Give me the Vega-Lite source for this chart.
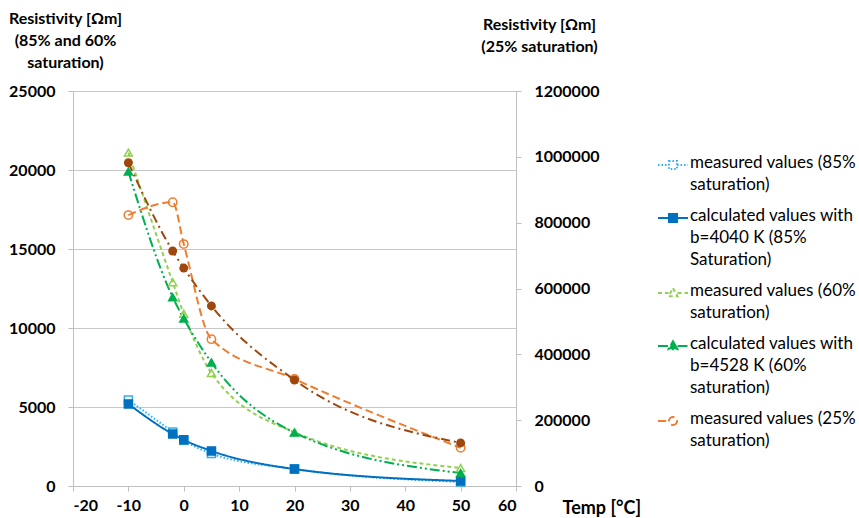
{
  "$schema": "https://vega.github.io/schema/vega-lite/v6.json",
  "width": 443,
  "height": 395,
  "autosize": {"type": "none"},
  "padding": {"left": 73, "top": 91, "right": 343, "bottom": 32},
  "background": "white",
  "config": {
    "view": {"stroke": null},
    "font": "Lato",
    "axis": {
      "labelFont": "Lato", "labelFontWeight": "bold", "labelFontSize": 16, "labelColor": "#000000",
      "titleFont": "Lato", "titleFontWeight": "bold", "titleFontSize": 16, "titleColor": "#000000",
      "domainColor": "#BFBFBF", "tickColor": "#BFBFBF", "gridColor": "#C8C8C8", "tickSize": 5
    }
  },
  "datasets": {
    "main": [
      {"series": "m85", "temp": -10, "r": 5450}, {"series": "m85", "temp": -2, "r": 3420}, {"series": "m85", "temp": 0, "r": 2900}, {"series": "m85", "temp": 5, "r": 2050}, {"series": "m85", "temp": 20, "r": 1080}, {"series": "m85", "temp": 50, "r": 260},
      {"series": "c85", "temp": -10, "r": 5190}, {"series": "c85", "temp": -2, "r": 3290}, {"series": "c85", "temp": 0, "r": 2920}, {"series": "c85", "temp": 5, "r": 2220}, {"series": "c85", "temp": 20, "r": 1070}, {"series": "c85", "temp": 50, "r": 320},
      {"series": "m60", "temp": -10, "r": 21100}, {"series": "m60", "temp": -2, "r": 12900}, {"series": "m60", "temp": 0, "r": 10900}, {"series": "m60", "temp": 5, "r": 7150}, {"series": "m60", "temp": 20, "r": 3400}, {"series": "m60", "temp": 50, "r": 1140},
      {"series": "c60", "temp": -10, "r": 19900}, {"series": "c60", "temp": -2, "r": 11950}, {"series": "c60", "temp": 0, "r": 10600}, {"series": "c60", "temp": 5, "r": 7820}, {"series": "c60", "temp": 20, "r": 3380}, {"series": "c60", "temp": 50, "r": 820}
    ],
    "right": [
      {"series": "m25", "temp": -10, "r": 823000}, {"series": "m25", "temp": -2, "r": 862000}, {"series": "m25", "temp": 0, "r": 735000}, {"series": "m25", "temp": 5, "r": 446000}, {"series": "m25", "temp": 20, "r": 325000}, {"series": "m25", "temp": 50, "r": 116000},
      {"series": "c25", "temp": -10, "r": 982000}, {"series": "c25", "temp": -2, "r": 714000}, {"series": "c25", "temp": 0, "r": 662000}, {"series": "c25", "temp": 5, "r": 547000}, {"series": "c25", "temp": 20, "r": 322000}, {"series": "c25", "temp": 50, "r": 131000}
    ]
  },
  "layer": [
    {
      "data": {"name": "main"},
      "encoding": {
        "x": {"field": "temp", "type": "quantitative",
          "scale": {"domain": [-20, 60], "nice": false, "zero": false},
          "axis": {"values": [-20, -10, 0, 10, 20, 30, 40, 50, 60], "labelExpr": "'' + datum.value", "grid": false, "labelPadding": 6,
            "title": "Temp [°C]", "titleFontSize": 18, "titleAlign": "left", "titleBaseline": "middle", "titleX": 489, "titleY": 22, "titleAngle": 0}},
        "y": {"field": "r", "type": "quantitative",
          "scale": {"domain": [0, 25000], "nice": false},
          "axis": {"values": [0, 5000, 10000, 15000, 20000, 25000], "format": "d", "grid": true, "labelPadding": 13,
            "title": ["Resistivity [Ωm]", "(85% and 60%", "saturation)"], "titleAngle": 0, "titleAlign": "center", "titleBaseline": "alphabetic",
            "titleX": -8, "titleY": -68, "titleLineHeight": 22}}
      },
      "layer": [
        {
          "mark": {"type": "line", "interpolate": "monotone", "strokeWidth": 2},
          "encoding": {
            "color": {"field": "series", "type": "nominal",
              "scale": {"domain": ["m85", "c85", "m60", "c60", "m25"], "range": ["#2FB0EE", "#0070C0", "#92D050", "#00B050", "#ED7D31"]},
              "legend": {
                "orient": "none", "legendX": 584, "legendY": 58, "title": null, "direction": "vertical",
                "labelExpr": "datum.label == 'm85' ? ['measured values (85%', 'saturation)'] : datum.label == 'c85' ? ['calculated values with', 'b=4040 K (85%', 'Saturation)'] : datum.label == 'm60' ? ['measured values (60%', 'saturation)'] : datum.label == 'c60' ? ['calculated values with', 'b=4528 K (60%', 'saturation)'] : ['measured values (25%', 'saturation)']",
                "labelFont": "Lato", "labelFontSize": 17, "labelColor": "#000000", "labelLimit": 400, "labelBaseline": "top",
                "labelOffset": 1, "symbolSize": 900, "symbolStrokeWidth": 2, "rowPadding": 9,
                "encode": {
                  "labels": {"update": {"dy": {"value": -10}, "lineHeight": {"value": 22}}},
                  "symbols": {"update": {
                    "shape": {"signal": "datum.value == 'm85' || datum.value == 'c85' ? 'M-1,0H-0.27M0.27,0H1M-0.27,-0.27H0.27V0.27H-0.27Z' : datum.value == 'm60' || datum.value == 'c60' ? 'M-1,0H-0.3M0.3,0H1M0,-0.32L0.3,0.22H-0.3Z' : 'M-1,0H-0.27M0.27,0A0.27,0.27 0 1,1 -0.27,0A0.27,0.27 0 1,1 0.27,0Z'"},
                    "fill": {"signal": "datum.value == 'c85' ? '#0070C0' : datum.value == 'c60' ? '#00B050' : 'transparent'"},
                    "strokeDash": {"signal": "datum.value == 'm85' ? [1.5, 2] : datum.value == 'm60' ? [4, 3] : datum.value == 'c60' ? [10, 3, 2, 3] : datum.value == 'm25' ? [6, 3] : [1, 0]"}
                  }}
                }
              }},
            "strokeDash": {"field": "series", "type": "nominal",
              "scale": {"domain": ["m85", "c85", "m60", "c60", "m25"], "range": [[1.5, 2], [1, 0], [4, 3], [10, 3, 2, 3, 2, 3], [8, 4]]},
              "legend": null}
          }
        },
        {
          "mark": {"type": "point", "filled": false, "size": 64, "strokeWidth": 1.5, "opacity": 1},
          "encoding": {
            "shape": {"condition": {"test": "datum.series == 'm60' || datum.series == 'c60'", "value": "triangle-up"}, "value": "square"},
            "stroke": {"condition": [
              {"test": "datum.series == 'm85'", "value": "#2FB0EE"},
              {"test": "datum.series == 'c85'", "value": "#0070C0"},
              {"test": "datum.series == 'm60'", "value": "#92D050"}
            ], "value": "#00B050"},
            "fill": {"condition": [
              {"test": "datum.series == 'c85'", "value": "#0070C0"},
              {"test": "datum.series == 'c60'", "value": "#00B050"}
            ], "value": "transparent"}
          }
        }
      ]
    },
    {
      "data": {"name": "right"},
      "encoding": {
        "x": {"field": "temp", "type": "quantitative"},
        "y": {"field": "r", "type": "quantitative",
          "scale": {"domain": [0, 1200000], "nice": false},
          "axis": {"orient": "right", "values": [0, 200000, 400000, 600000, 800000, 1000000, 1200000], "format": "d", "grid": false, "labelPadding": 13,
            "title": ["Resistivity [Ωm]", "(25% saturation)"], "titleAngle": 0, "titleAlign": "center", "titleBaseline": "alphabetic",
            "titleX": 23, "titleY": -62, "titleLineHeight": 22}}
      },
      "layer": [
        {
          "transform": [{"filter": "datum.series == 'm25'"}],
          "mark": {"type": "line", "interpolate": "monotone", "strokeWidth": 2},
          "encoding": {
            "color": {"field": "series", "type": "nominal"},
            "strokeDash": {"field": "series", "type": "nominal", "legend": null}
          }
        },
        {
          "transform": [{"filter": "datum.series == 'm25'"}],
          "mark": {"type": "point", "filled": false, "size": 70, "strokeWidth": 1.5, "opacity": 1, "shape": "circle", "stroke": "#ED7D31", "fill": "transparent"},
          "encoding": {}
        },
        {
          "transform": [{"filter": "datum.series == 'c25'"}],
          "mark": {"type": "line", "interpolate": "monotone", "strokeWidth": 2, "color": "#9E480E", "strokeDash": [9, 4, 2, 4]},
          "encoding": {}
        },
        {
          "transform": [{"filter": "datum.series == 'c25'"}],
          "mark": {"type": "point", "filled": true, "size": 80, "shape": "circle", "color": "#9E480E", "opacity": 1},
          "encoding": {}
        }
      ]
    }
  ],
  "resolve": {"scale": {"y": "independent"}}
}
